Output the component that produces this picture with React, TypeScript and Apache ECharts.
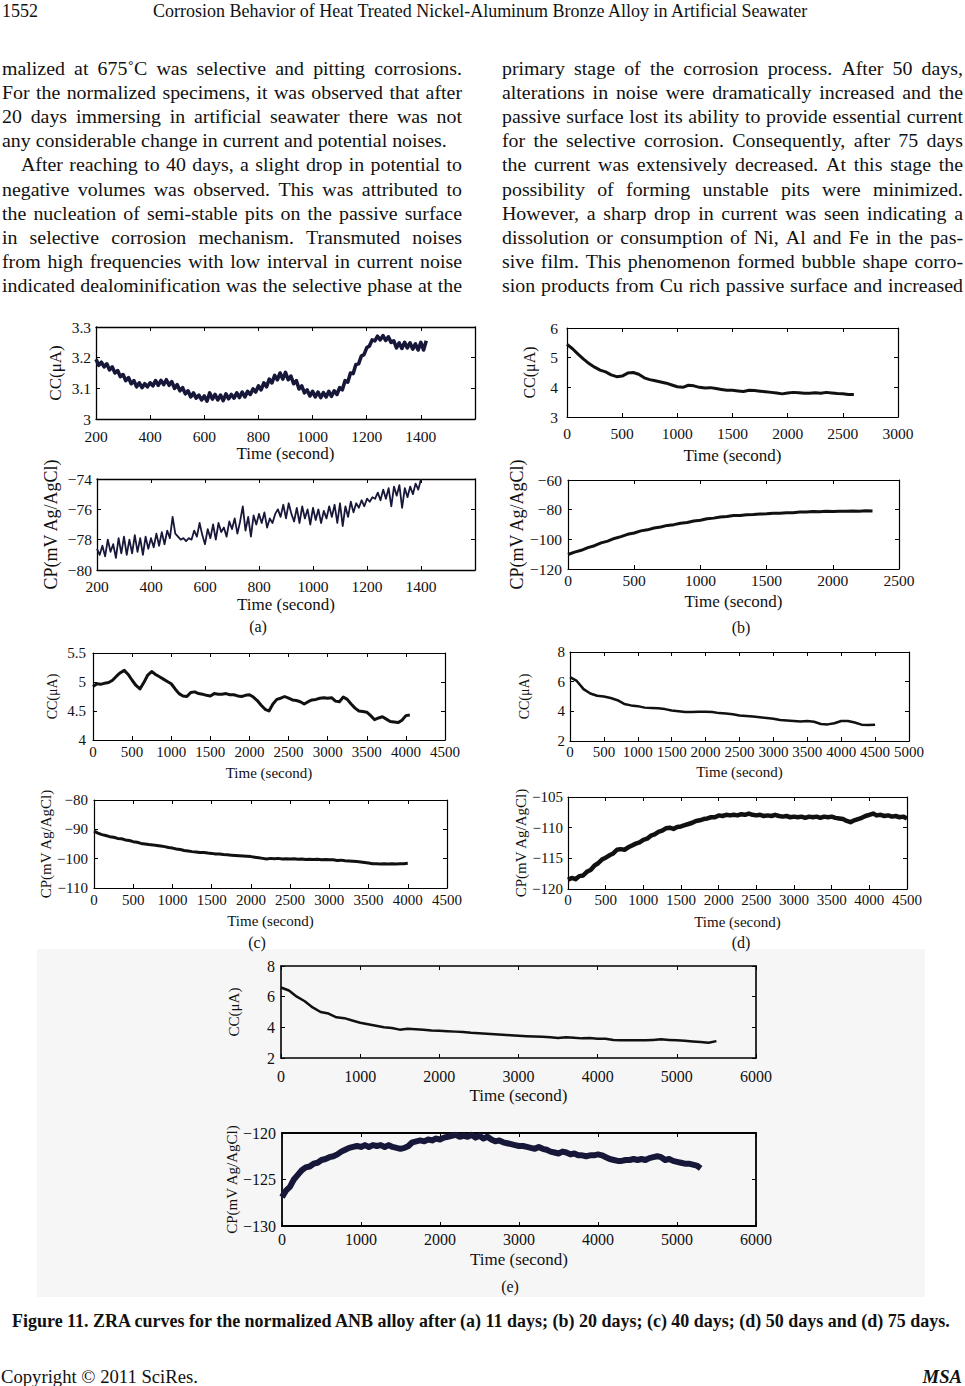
import React, { useEffect, useRef } from "react";
import * as echarts from "echarts";

const PAGE_W = 965;
const PAGE_H = 1386;
const SERIF = "'Liberation Serif', 'Times New Roman', serif";

// ---------------- page text ----------------
const headerPage = "1552";
const headerTitle = "Corrosion Behavior of Heat Treated Nickel-Aluminum Bronze Alloy in Artificial Seawater";
const leftLines = [
  "malized at 675˚C was selective and pitting corrosions.",
  "For the normalized specimens, it was observed that after",
  "20 days immersing in artificial seawater there was not",
  "any considerable change in current and potential noises.",
  "After reaching to 40 days, a slight drop in potential to",
  "negative volumes was observed. This was attributed to",
  "the nucleation of semi-stable pits on the passive surface",
  "in selective corrosion mechanism. Transmuted noises",
  "from high frequencies with low interval in current noise",
  "indicated dealominification was the selective phase at the",
];
const rightLines = [
  "primary stage of the corrosion process. After 50 days,",
  "alterations in noise were dramatically increased and the",
  "passive surface lost its ability to provide essential current",
  "for the selective corrosion. Consequently, after 75 days",
  "the current was extensively decreased. At this stage the",
  "possibility of forming unstable pits were minimized.",
  "However, a sharp drop in current was seen indicating a",
  "dissolution or consumption of Ni, Al and Fe in the pas-",
  "sive film. This phenomenon formed bubble shape corro-",
  "sion products from Cu rich passive surface and increased",
];
const caption =
  "Figure 11. ZRA curves for the normalized ANB alloy after (a) 11 days; (b) 20 days; (c) 40 days; (d) 50 days and (d) 75 days.";
const footerLeft = "Copyright © 2011 SciRes.";
const footerRight = "MSA";
const panelLetters = ["(a)", "(b)", "(c)", "(d)", "(e)"];
const timeTitle = "Time (second)";
const ccName = "CC(μA)";
const cpName = "CP(mV Ag/AgCl)";

// ---------------- data ----------------
// axis ranges: [min, max, interval]
const aTimeAxis = [200, 1600, 200];
const aCurrentAxis = [3, 3.3, 0.1];
const aPotentialAxis = [-80, -74, 2];
const bCurrentTimeAxis = [0, 3000, 500];
const bPotentialTimeAxis = [0, 2500, 500];
const bCurrentAxis = [3, 6, 1];
const bPotentialAxis = [-120, -60, 20];
const cTimeAxis = [0, 4500, 500];
const cCurrentAxis = [4, 5.5, 0.5];
const cPotentialAxis = [-110, -80, 10];
const dCurrentTimeAxis = [0, 5000, 500];
const dPotentialTimeAxis = [0, 4500, 500];
const dCurrentAxis = [2, 8, 2];
const dPotentialAxis = [-120, -105, 5];
const eTimeAxis = [0, 6000, 1000];
const eCurrentAxis = [2, 8, 2];
const ePotentialAxis = [-130, -120, 5];

// (a) 11 days — sampled every 10 s from 200 s
const aCurrentStart = 200;
const aCurrentStep = 10;
const aCurrent = [
  3.195, 3.175, 3.185, 3.17, 3.18, 3.16, 3.17, 3.15, 3.158, 3.138, 3.145, 3.125, 3.135, 3.115, 3.125, 3.105,
  3.118, 3.102, 3.115, 3.105, 3.118, 3.108, 3.125, 3.11, 3.126, 3.112, 3.128, 3.11, 3.122, 3.1, 3.112, 3.092,
  3.102, 3.082, 3.092, 3.072, 3.085, 3.068, 3.078, 3.062, 3.075, 3.058, 3.085, 3.065, 3.08, 3.062, 3.078, 3.06,
  3.082, 3.066, 3.08, 3.068, 3.085, 3.07, 3.088, 3.072, 3.09, 3.08, 3.098, 3.088, 3.108, 3.095, 3.118, 3.105,
  3.13, 3.118, 3.142, 3.128, 3.15, 3.13, 3.152, 3.128, 3.14, 3.115, 3.125, 3.098, 3.108, 3.085, 3.095, 3.075,
  3.09, 3.072, 3.088, 3.07, 3.086, 3.072, 3.09, 3.074, 3.092, 3.08, 3.102, 3.095, 3.125, 3.12, 3.15, 3.148,
  3.178, 3.18, 3.205, 3.21, 3.232, 3.238, 3.258, 3.255, 3.27, 3.258, 3.272, 3.256, 3.268, 3.25, 3.255, 3.232,
  3.248, 3.23, 3.25, 3.232, 3.248, 3.228, 3.245, 3.225, 3.25, 3.225, 3.255,
];
const aPotentialStart = 200;
const aPotentialStep = 10;
const aPotential = [
  -78.6, -79.0, -78.4, -79.1, -78.0, -78.8, -78.3, -79.2, -77.9, -78.9, -77.8, -79.0, -78.0, -78.9, -77.7, -78.8,
  -77.9, -79.0, -77.8, -78.6, -77.9, -78.5, -77.6, -78.4, -77.5, -78.3, -77.4, -77.9, -76.5, -77.6, -77.8, -78.0,
  -77.9, -78.1, -77.9, -78.0, -77.4, -77.8, -76.9, -77.7, -78.3, -77.3, -77.9, -77.0, -78.0, -76.9, -77.5, -77.2,
  -77.8, -76.8, -77.3, -76.6, -77.6, -76.8, -75.8, -77.4, -76.5, -77.8, -76.4, -77.0, -76.3, -76.9, -76.2, -77.2,
  -76.6, -76.9, -76.3, -76.0, -76.5, -75.7, -76.6, -75.6, -76.3, -76.8, -75.9, -76.9, -75.8, -76.6, -76.0, -77.0,
  -75.9, -76.7, -76.0, -76.9, -76.1, -76.6, -75.8, -76.5, -75.7, -76.9, -75.6, -77.1, -75.8, -76.5, -75.5, -76.2,
  -75.6, -75.9, -75.4, -75.8, -75.3, -75.5, -75.2, -75.3, -74.9, -75.4, -74.7, -75.3, -74.6, -75.8, -74.5, -75.1,
  -74.4, -75.9, -74.6, -75.2, -74.5, -75.0, -74.3, -74.7, -74.0,
];

// (b) 20 days
const bCurrentStart = 0;
const bCurrentStep = 50;
const bCurrent = [
  5.45, 5.3, 5.12, 4.95, 4.8, 4.68, 4.58, 4.52, 4.42, 4.36, 4.38, 4.48, 4.5, 4.44, 4.32, 4.26, 4.22, 4.18, 4.14,
  4.08, 4.02, 4.0, 4.07, 4.05, 4.0, 3.98, 3.99, 3.96, 3.93, 3.9, 3.9, 3.88, 3.86, 3.9, 3.89, 3.87, 3.85, 3.83,
  3.81, 3.78, 3.81, 3.83, 3.82, 3.8, 3.8, 3.82, 3.8, 3.83, 3.81, 3.79, 3.78, 3.76, 3.76,
];
const bPotentialStart = 0;
const bPotentialStep = 50;
const bPotential = [
  -110.2, -108.6, -107.4, -105.6, -104.3, -102.4, -101.2, -99.4, -98.2, -96.6, -95.7, -94.3, -93.6, -92.4, -91.7,
  -90.6, -90.1, -89.1, -88.6, -87.6, -87.1, -86.1, -85.7, -84.9, -84.6, -84.0, -83.9, -83.4, -83.3, -82.9, -82.8,
  -82.4, -82.4, -82.0, -82.0, -81.6, -81.6, -81.3, -81.4, -81.1, -81.3, -81.0, -81.1, -80.9, -81.0, -80.8, -80.9,
];

// (c) 40 days
const cCurrentStart = 0;
const cCurrentStep = 50;
const cCurrent = [
  4.92, 4.97, 4.96, 4.98, 4.99, 5.03, 5.1, 5.16, 5.2, 5.13, 5.03, 4.94, 4.88, 4.99, 5.12, 5.18, 5.13, 5.09, 5.05,
  5.01, 4.97, 4.88, 4.8, 4.76, 4.75, 4.82, 4.83, 4.8, 4.79, 4.77, 4.76, 4.8, 4.79, 4.79, 4.8, 4.78, 4.78, 4.76,
  4.75, 4.77, 4.78, 4.74, 4.68, 4.6, 4.53, 4.5, 4.62, 4.7, 4.72, 4.75, 4.72, 4.69, 4.68, 4.66, 4.62, 4.66, 4.69,
  4.7, 4.72, 4.73, 4.72, 4.73, 4.67, 4.66, 4.74, 4.7, 4.62, 4.55, 4.5, 4.49, 4.48, 4.42, 4.35, 4.38, 4.4, 4.36,
  4.32, 4.31, 4.3, 4.34, 4.42, 4.43,
];
const cPotentialStart = 0;
const cPotentialStep = 50;
const cPotential = [
  -90.6, -91.3, -91.8, -92.1, -92.5, -92.7, -93.1, -93.2, -93.6, -93.8, -94.2, -94.4, -94.8, -95.0, -95.2, -95.3,
  -95.5, -95.7, -95.9, -96.2, -96.4, -96.7, -96.9, -97.2, -97.4, -97.6, -97.7, -97.9, -97.9, -98.1, -98.2, -98.4,
  -98.4, -98.6, -98.7, -98.8, -98.9, -99.0, -99.1, -99.2, -99.3, -99.5, -99.7, -99.9, -100.1, -99.9, -100.0,
  -99.9, -100.1, -100.0, -100.1, -100.0, -100.2, -100.1, -100.3, -100.2, -100.3, -100.2, -100.4, -100.3, -100.4,
  -100.4, -100.6, -100.5, -100.7, -100.8, -100.9, -101.0, -101.1, -101.3, -101.5, -101.7, -101.7, -101.8,
  -101.7, -101.8, -101.7, -101.8, -101.7, -101.7, -101.6,
];

// (d) 50 days
const dCurrentStart = 0;
const dCurrentStep = 100;
const dCurrent = [
  6.3, 6.05, 5.5, 5.2, 5.05, 5.0, 4.9, 4.75, 4.5, 4.4, 4.35, 4.25, 4.22, 4.2, 4.15, 4.05, 4.0, 3.96, 3.95, 3.98,
  3.98, 3.95, 3.88, 3.85, 3.8, 3.72, 3.68, 3.65, 3.6, 3.55, 3.5, 3.42, 3.38, 3.35, 3.32, 3.35, 3.3, 3.15, 3.12,
  3.2, 3.35, 3.35, 3.25, 3.1, 3.08, 3.1,
];
const dPotentialStart = 0;
const dPotentialStep = 50;
const dPotential = [
  -118.5, -118.2, -118.4, -117.9, -117.8, -117.2, -116.9, -116.2, -115.8, -115.2, -114.9, -114.5, -114.2, -113.6,
  -113.5, -113.6, -113.2, -112.9, -112.6, -112.4, -112.0, -111.8, -111.3, -111.1, -110.7, -110.5, -110.1, -110.0,
  -110.2, -109.9, -109.8, -109.6, -109.4, -109.2, -108.9, -108.8, -108.6, -108.5, -108.3, -108.3, -108.0, -108.1,
  -107.9, -108.0, -107.9, -108.0, -107.8, -107.9, -107.7, -107.9, -108.0, -107.9, -108.1, -108.0, -108.1, -107.9,
  -108.1, -108.2, -108.1, -108.3, -108.2, -108.3, -108.2, -108.4, -108.2, -108.3, -108.2, -108.4, -108.2, -108.3,
  -108.2, -108.4, -108.5, -108.6, -108.9, -109.1, -108.8, -108.6, -108.4, -108.1, -107.9, -107.7, -108.0, -107.9,
  -108.1, -108.0, -108.2, -108.1, -108.3, -108.2, -108.5,
];

// (e) 75 days
const eCurrentStart = 0;
const eCurrentStep = 100;
const eCurrent = [
  6.6, 6.4, 6.0, 5.7, 5.3, 5.0, 4.9, 4.65, 4.6, 4.45, 4.3, 4.2, 4.1, 4.0, 3.95, 3.85, 3.9, 3.88, 3.85, 3.8, 3.78,
  3.75, 3.72, 3.7, 3.65, 3.62, 3.58, 3.55, 3.52, 3.48, 3.45, 3.42, 3.4, 3.38, 3.35, 3.3, 3.35, 3.32, 3.28, 3.3,
  3.25, 3.25, 3.18, 3.15, 3.15, 3.15, 3.15, 3.18, 3.22, 3.18, 3.15, 3.12, 3.08, 3.05, 3.0, 3.1,
];
const ePotentialStart = 0;
const ePotentialStep = 50;
const ePotential = [
  -126.9, -126.2, -125.8, -125.0, -124.5, -124.0, -123.7, -123.6, -123.3, -123.2, -122.9, -122.8, -122.6, -122.5,
  -122.3, -122.0, -121.8, -121.6, -121.5, -121.4, -121.5, -121.3, -121.5, -121.3, -121.4, -121.3, -121.5, -121.3,
  -121.5, -121.6, -121.7, -121.6, -121.4, -121.0, -120.9, -120.8, -120.9, -120.7, -120.8, -120.6, -120.7, -120.5,
  -120.4, -120.3, -120.2, -120.4, -120.3, -120.4, -120.2, -120.5, -120.3, -120.6, -120.4, -120.7, -120.9, -120.8,
  -121.0, -121.1, -121.2, -121.3, -121.4, -121.4, -121.5, -121.6, -121.7, -121.5, -121.7, -121.8, -122.0, -122.1,
  -122.2, -122.0, -122.1, -122.3, -122.2, -122.4, -122.4, -122.5, -122.4, -122.4, -122.3, -122.4, -122.6, -122.8,
  -122.9, -123.0, -123.0, -122.9, -122.9, -122.8, -122.9, -122.8, -122.9, -122.7, -122.6, -122.5, -122.6, -122.9,
  -122.8, -123.0, -123.1, -123.2, -123.3, -123.3, -123.4, -123.5, -123.8,
];

// ---------------- helpers ----------------
function toPairs(start: number, step: number, ys: number[]) {
  return ys.map((y, i) => [start + i * step, y]);
}

let measureCtx: CanvasRenderingContext2D | null = null;
function measure(text: string, size: number, weight = "normal", style = "normal") {
  if (!measureCtx) measureCtx = document.createElement("canvas").getContext("2d");
  measureCtx!.font = `${style} ${weight} ${size}px 'Liberation Serif'`;
  return measureCtx!.measureText(text).width;
}

function fmtNum(v: number) {
  const r = +v.toFixed(2);
  return r < 0 ? "−" + Math.abs(r) : String(r);
}

type Panel = {
  box: number[];
  xr: number[];
  yr: number[];
  data: number[][];
  yName: string;
  hideX?: number;
  color: string;
  lw: number;
  fs: number;
  tfs: number;
  nfs: number;
  lm: number;
  tg: number;
  ym: number;
  yg: number;
  bw: number;
};

const INK = "#111111";
const NAVY = "#17173a";

const panels: Panel[] = [
  { box: [96, 327, 379, 92], xr: aTimeAxis, yr: aCurrentAxis, data: toPairs(aCurrentStart, aCurrentStep, aCurrent), yName: ccName, hideX: 1600, color: NAVY, lw: 3.6, fs: 15.5, tfs: 17, nfs: 17, lm: 9, tg: 26, ym: 5, yg: 32, bw: 1.3 },
  { box: [97, 479, 378, 91], xr: aTimeAxis, yr: aPotentialAxis, data: toPairs(aPotentialStart, aPotentialStep, aPotential), yName: cpName, hideX: 1600, color: NAVY, lw: 1.8, fs: 15.5, tfs: 17, nfs: 18, lm: 8, tg: 26, ym: 5, yg: 37, bw: 1.3 },
  { box: [567, 328, 331, 89], xr: bCurrentTimeAxis, yr: bCurrentAxis, data: toPairs(bCurrentStart, bCurrentStep, bCurrent), yName: ccName, color: INK, lw: 3, fs: 15.5, tfs: 17, nfs: 16, lm: 8, tg: 30, ym: 9, yg: 30, bw: 1.2 },
  { box: [568, 480, 331, 89], xr: bPotentialTimeAxis, yr: bPotentialAxis, data: toPairs(bPotentialStart, bPotentialStep, bPotential), yName: cpName, color: INK, lw: 3, fs: 15.5, tfs: 17, nfs: 18, lm: 3, tg: 24, ym: 6, yg: 39, bw: 1.2 },
  { box: [93, 653, 352, 87], xr: cTimeAxis, yr: cCurrentAxis, data: toPairs(cCurrentStart, cCurrentStep, cCurrent), yName: ccName, color: INK, lw: 3, fs: 15, tfs: 15, nfs: 14, lm: 4, tg: 25, ym: 7, yg: 34, bw: 1.2 },
  { box: [94, 800, 353, 88], xr: cTimeAxis, yr: cPotentialAxis, data: toPairs(cPotentialStart, cPotentialStep, cPotential), yName: cpName, color: INK, lw: 3, fs: 15, tfs: 15, nfs: 15, lm: 4, tg: 25, ym: 6, yg: 37, bw: 1.2 },
  { box: [570, 652, 339, 89], xr: dCurrentTimeAxis, yr: dCurrentAxis, data: toPairs(dCurrentStart, dCurrentStep, dCurrent), yName: ccName, color: INK, lw: 2.5, fs: 15, tfs: 15, nfs: 14, lm: 3, tg: 23, ym: 5, yg: 39, bw: 1.2 },
  { box: [568, 797, 339, 92], xr: dPotentialTimeAxis, yr: dPotentialAxis, data: toPairs(dPotentialStart, dPotentialStep, dPotential), yName: cpName, color: INK, lw: 4.5, fs: 15, tfs: 15, nfs: 15, lm: 3, tg: 25, ym: 5, yg: 39, bw: 1.2 },
  { box: [281, 966, 475, 92], xr: eTimeAxis, yr: eCurrentAxis, data: toPairs(eCurrentStart, eCurrentStep, eCurrent), yName: ccName, color: INK, lw: 2.5, fs: 16, tfs: 17, nfs: 15, lm: 10, tg: 29, ym: 6, yg: 40, bw: 1.6 },
  { box: [282, 1133, 474, 93], xr: eTimeAxis, yr: ePotentialAxis, data: toPairs(ePotentialStart, ePotentialStep, ePotential), yName: cpName, color: NAVY, lw: 6, fs: 16, tfs: 17, nfs: 15, lm: 5, tg: 25, ym: 6, yg: 43, bw: 1.8 },
];

const letterPos = [
  [258, 626],
  [741, 627],
  [257, 942],
  [741, 942],
  [510, 1286],
];

function buildGraphics() {
  const els: any[] = [];
  // light figure background for (e)
  els.push({ type: "rect", silent: true, z: -10, shape: { x: 37, y: 949, width: 888, height: 348 }, style: { fill: "#f6f6f6" } });

  // header
  const titleW = 657;
  const hSize = (16 * titleW) / measure(headerTitle, 16);
  els.push({ type: "text", x: 2, y: 11, silent: true, style: { text: headerPage, fontSize: hSize, fontFamily: SERIF, fill: INK, align: "left", verticalAlign: "middle" } });
  els.push({ type: "text", x: 153, y: 11, silent: true, style: { text: headerTitle, fontSize: hSize, fontFamily: SERIF, fill: INK, align: "left", verticalAlign: "middle" } });

  // body text
  const refLine = leftLines[3];
  const bodySize = (100 * 445) / measure(refLine, 100);
  const lineY0 = 68;
  const lineH = 24.1;
  const place = (lines: string[], x0: number, x1: number, ragged: number[], indent: number[]) => {
    lines.forEach((line, li) => {
      const y = lineY0 + li * lineH;
      const start = x0 + (indent.includes(li) ? 19 : 0);
      const width = x1 - start;
      const words = line.split(" ");
      const ws = words.map((w) => measure(w, bodySize));
      const total = ws.reduce((a, b) => a + b, 0);
      const space = measure(" ", bodySize);
      let gap = space;
      let scale = 1;
      if (!ragged.includes(li) && words.length > 1) {
        gap = (width - total) / (words.length - 1);
        if (gap < space * 0.6) {
          gap = space * 0.6;
          scale = width / (total + gap * (words.length - 1));
        }
      }
      let x = start;
      words.forEach((w, wi) => {
        els.push({ type: "text", x, y, scaleX: scale, silent: true, style: { text: w, fontSize: bodySize, fontFamily: SERIF, fill: INK, align: "left", verticalAlign: "middle" } });
        x += (ws[wi] + gap) * scale;
      });
    });
  };
  place(leftLines, 2, 462, [3], [4]);
  place(rightLines, 502, 963, [], []);

  // panel letters
  panelLetters.forEach((t, i) => {
    els.push({ type: "text", x: letterPos[i][0], y: letterPos[i][1], silent: true, style: { text: t, fontSize: 16, fontFamily: SERIF, fill: INK, align: "center", verticalAlign: "middle" } });
  });

  // caption
  const capW = 941;
  const capSize = (15 * capW) / measure(caption, 15, "bold");
  els.push({ type: "text", x: 12, y: 1321, silent: true, style: { text: caption, fontSize: capSize, fontWeight: "bold", fontFamily: SERIF, fill: INK, align: "left", verticalAlign: "middle" } });

  // footer
  const fSize = (15 * 197) / measure(footerLeft, 15);
  els.push({ type: "text", x: 1, y: 1376, silent: true, style: { text: footerLeft, fontSize: fSize, fontFamily: SERIF, fill: INK, align: "left", verticalAlign: "middle" } });
  els.push({ type: "text", x: 962, y: 1376, silent: true, style: { text: footerRight, fontSize: fSize, fontWeight: "bold", fontStyle: "italic", fontFamily: SERIF, fill: INK, align: "right", verticalAlign: "middle" } });
  return els;
}

function buildOption() {
  const grid: any[] = [];
  const xAxis: any[] = [];
  const yAxis: any[] = [];
  const series: any[] = [];
  panels.forEach((p, i) => {
    grid.push({ left: p.box[0], top: p.box[1], width: p.box[2], height: p.box[3], containLabel: false, show: false });
    const lineStyle = { color: "#000", width: p.bw };
    const tick = { show: true, inside: true, length: 4, lineStyle: { color: "#000", width: 1 } };
    xAxis.push({
      gridIndex: i,
      type: "value",
      position: "bottom",
      min: p.xr[0],
      max: p.xr[1],
      interval: p.xr[2],
      axisLine: { show: true, onZero: false, lineStyle },
      axisTick: tick,
      splitLine: { show: false },
      axisLabel: {
        fontFamily: SERIF,
        fontSize: p.fs,
        color: INK,
        margin: p.lm,
        formatter: (v: number) => (p.hideX !== undefined && v === p.hideX ? "" : fmtNum(v)),
      },
      name: timeTitle,
      nameLocation: "middle",
      nameGap: p.tg,
      nameTextStyle: { fontFamily: SERIF, fontSize: p.tfs, color: INK },
    });
    xAxis.push({
      gridIndex: i,
      type: "value",
      position: "top",
      min: p.xr[0],
      max: p.xr[1],
      interval: p.xr[2],
      axisLine: { show: true, onZero: false, lineStyle },
      axisTick: tick,
      splitLine: { show: false },
      axisLabel: { show: false },
    });
    yAxis.push({
      gridIndex: i,
      type: "value",
      position: "left",
      min: p.yr[0],
      max: p.yr[1],
      interval: p.yr[2],
      axisLine: { show: true, onZero: false, lineStyle },
      axisTick: tick,
      splitLine: { show: false },
      axisLabel: { fontFamily: SERIF, fontSize: p.fs, color: INK, margin: p.ym, formatter: (v: number) => fmtNum(v) },
      name: p.yName,
      nameLocation: "middle",
      nameGap: p.yg,
      nameTextStyle: { fontFamily: SERIF, fontSize: p.nfs, color: INK },
    });
    yAxis.push({
      gridIndex: i,
      type: "value",
      position: "right",
      min: p.yr[0],
      max: p.yr[1],
      interval: p.yr[2],
      axisLine: { show: true, onZero: false, lineStyle },
      axisTick: tick,
      splitLine: { show: false },
      axisLabel: { show: false },
    });
    series.push({
      type: "line",
      xAxisIndex: 2 * i,
      yAxisIndex: 2 * i,
      data: p.data,
      showSymbol: false,
      symbol: "none",
      silent: true,
      lineStyle: { color: p.color, width: p.lw, join: "round" },
      z: 2,
    });
  });
  return {
    animation: false,
    backgroundColor: "#ffffff",
    grid,
    xAxis,
    yAxis,
    series,
    graphic: { elements: buildGraphics() },
  };
}

export default function App() {
  const ref = useRef<HTMLDivElement>(null);
  useEffect(() => {
    const chart = echarts.init(ref.current!, null, { renderer: "svg", width: PAGE_W, height: PAGE_H });
    chart.setOption(buildOption() as any);
    return () => chart.dispose();
  }, []);
  return (
    <div
      ref={ref}
      style={{ position: "absolute", left: 0, top: 0, width: PAGE_W, height: PAGE_H, background: "#fff" }}
    />
  );
}
